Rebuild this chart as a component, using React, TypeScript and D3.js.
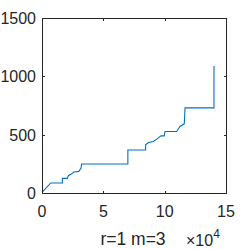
import * as d3 from "d3";
import { useRef, useEffect, ReactElement } from "react";

// step curve vertices (x in raw units, axis shows x10^4)
const xValues = [0, 7100, 16600, 16600, 20700, 21500, 23500, 26000, 30000, 31800, 32300, 70000, 70000, 84500, 84500, 86700, 90800, 93500, 97000, 99700, 100300, 109800, 112500, 116000, 116600, 140200, 140200];
const yValues = [5, 86, 86, 125, 125, 148, 160, 180, 185, 214, 248, 248, 368, 368, 413, 433, 442, 462, 490, 490, 527, 527, 570, 593, 730, 730, 1089];

const xTicks = [0, 50000, 100000, 150000];
const yTicks = [0, 500, 1000, 1500];
const title = "r=1 m=3";

const W = 249, H = 249;
const left = 42, right = 226, top = 18, bottom = 193;
const ink = "#262626";
const font = "Liberation Sans, Arial, sans-serif";

const App = (): ReactElement => {
    const svgRef = useRef(null);

    useEffect(() => {
        if (!svgRef.current) return;
        const svg = d3.select(svgRef.current);
        svg.selectAll("*").remove();

        const x = d3.scaleLinear().domain([0, 150000]).range([left, right]);
        const y = d3.scaleLinear().domain([0, 1500]).range([bottom, top]);

        const pts: [number, number][] = xValues.map((v, i) => [v, yValues[i]]);
        const line = d3.line<[number, number]>().x(d => x(d[0])).y(d => y(d[1]));

        svg.append("path")
            .attr("d", line(pts))
            .attr("fill", "none")
            .attr("stroke", "#0072BD")
            .attr("stroke-width", 1.1);

        // box
        svg.append("rect")
            .attr("x", left + 0.5).attr("y", top + 0.5)
            .attr("width", right - left).attr("height", bottom - top)
            .attr("fill", "none").attr("stroke", ink).attr("stroke-width", 1);

        const tl = 2.5;
        xTicks.forEach(t => {
            const px = Math.round(x(t)) + 0.5;
            svg.append("line").attr("x1", px).attr("x2", px).attr("y1", bottom + 0.5).attr("y2", bottom + 0.5 - tl).attr("stroke", ink);
            svg.append("line").attr("x1", px).attr("x2", px).attr("y1", top + 0.5).attr("y2", top + 0.5 + tl).attr("stroke", ink);
            svg.append("text").attr("x", x(t)).attr("y", bottom + 24)
                .attr("text-anchor", "middle").attr("font-size", 16).attr("fill", ink)
                .attr("font-family", font)
                .text(String(t / 10000));
        });
        yTicks.forEach(t => {
            const py = Math.round(y(t)) + 0.5;
            svg.append("line").attr("x1", left + 0.5).attr("x2", left + 0.5 + tl).attr("y1", py).attr("y2", py).attr("stroke", ink);
            svg.append("line").attr("x1", right + 0.5).attr("x2", right + 0.5 - tl).attr("y1", py).attr("y2", py).attr("stroke", ink);
            svg.append("text").attr("x", left - 6).attr("y", y(t) + 6)
                .attr("text-anchor", "end").attr("font-size", 16).attr("fill", ink)
                .attr("font-family", font)
                .text(String(t));
        });

        // exponent
        const ex = svg.append("text").attr("x", 186).attr("y", 246)
            .attr("font-size", 16).attr("fill", ink)
            .attr("font-family", font);
        ex.append("tspan").text("\u00d710");
        ex.append("tspan").attr("dy", -8).attr("font-size", 12).text("4");

        svg.append("text").attr("x", 133).attr("y", 245)
            .attr("text-anchor", "middle").attr("font-size", 17.5).attr("fill", ink)
            .attr("font-family", font)
            .text(title);

        return () => { svg.selectAll("*").remove(); };
    }, []);

    return (
        <svg width={W} height={H} ref={svgRef} style={{ position: "absolute", left: 0, top: 0, background: "#fff" }}></svg>
    );
};

export default App;
